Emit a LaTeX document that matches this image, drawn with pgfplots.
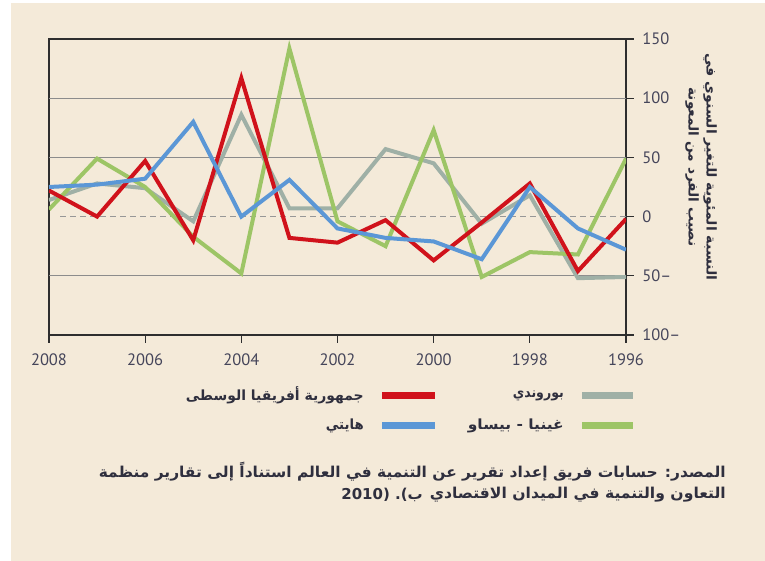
\documentclass[border=0pt]{standalone}
\usepackage{fontspec}
\usepackage{graphicx}
\setmainfont{PT Sans}
\newfontfamily\arabicfont[Script=Arabic]{DejaVu Sans}
\usepackage{pgfplots}
\pgfplotsset{compat=1.18}
\TeXXeTstate=1
\definecolor{bgcream}{HTML}{F4EAD9}
\definecolor{cred}{HTML}{D0121B}
\definecolor{cgrey}{HTML}{9FB0A6}
\definecolor{cgreen}{HTML}{9DC566}
\definecolor{cblue}{HTML}{5B97D6}
\definecolor{txt}{HTML}{45455A}
\definecolor{artxt}{HTML}{2F2F3E}
\definecolor{gridc}{HTML}{8C8C8C}
\definecolor{framec}{HTML}{2E2E2E}
\begin{document}
\begin{tikzpicture}
\fill[white] (0pt,0pt) rectangle (765pt,561pt);
\fill[bgcream] (11pt,0pt) rectangle (765pt,558pt);
\begin{axis}[at={(49pt,226pt)}, anchor=south west, scale only axis,
  width=577pt, height=296pt,
  x dir=reverse, xmin=1996, xmax=2008, ymin=-100, ymax=150,
  xtick={1996,1998,2000,2002,2004,2006,2008},
  xticklabels={1996,1998,2000,2002,2004,2006,2008},
  ytick={-100,-50,0,50,100,150},
  yticklabels={100--,50--,0,50,100,150},
  xtick pos=bottom, ytick pos=right, yticklabel pos=right,
  tick align=outside, major tick length=8pt,
  tick style={line width=1.3pt, color=framec},
  axis line style={line width=1.6pt, color=framec},
  ticklabel style={font=\fontsize{16.5}{16.5}\selectfont, text=txt},
  xticklabel style={yshift=-7pt},
  yticklabel style={xshift=5pt},
  clip=true,
]
\draw[gridc, line width=0.9pt] (axis cs:1996,50) -- (axis cs:2008,50);
\draw[gridc, line width=0.9pt] (axis cs:1996,100) -- (axis cs:2008,100);
\draw[gridc, line width=0.9pt] (axis cs:1996,-50) -- (axis cs:2008,-50);
\draw[gridc!90, line width=0.9pt, dash pattern=on 6pt off 4pt] (axis cs:1996,0) -- (axis cs:2007.8,0);
\addplot[cgrey, line width=4pt] coordinates {(2008,14)(2007,28)(2006,24)(2005,-4)(2004,86)(2003,7)(2002,7)(2001,57)(2000,45)(1999,-6)(1998,18)(1997,-52)(1996,-51)};
\addplot[cgreen, line width=4pt] coordinates {(2008,6)(2007,49)(2006,25)(2005,-17)(2004,-48)(2003,142)(2002,-4)(2001,-25)(2000,73)(1999,-51)(1998,-30)(1997,-32)(1996,49)};
\addplot[cred, line width=4pt] coordinates {(2008,22)(2007,0)(2006,47)(2005,-20)(2004,117)(2003,-18)(2002,-22)(2001,-3)(2000,-37)(1999,-5)(1998,28)(1997,-46)(1996,-2)};
\addplot[cblue, line width=4pt] coordinates {(2008,25)(2007,27)(2006,32)(2005,80)(2004,0)(2003,31)(2002,-10)(2001,-18)(2000,-21)(1999,-36)(1998,25)(1997,-10)(1996,-28)};
\end{axis}
\begin{scope}[x=1pt,y=1pt]
% y-axis title
\node[rotate=-90, align=center, text=artxt, font=\arabicfont\bfseries\fontsize{13.5}{18}\selectfont] at (701,394)
  {\resizebox{227pt}{\height}{\beginR النسبة المئوية للتغير السنوي في\endR}\\\resizebox{159pt}{\height}{\beginR نصيب الفرد من المعونة\endR}};
% legend
\draw[cgrey, line width=7pt] (582,165.3) -- (633,165.3);
\draw[cgreen, line width=7pt] (582,135.3) -- (633,135.3);
\draw[cred, line width=7pt] (382,165.3) -- (435,165.3);
\draw[cblue, line width=7pt] (382,135.3) -- (435,135.3);
\begin{scope}[every node/.style={anchor=east, text=artxt, inner sep=0pt, font=\arabicfont\bfseries\fontsize{14}{14}\selectfont}]
\node at (564,165.3) {\resizebox{51pt}{\height}{\beginR بوروندي\endR}};
\node at (564,135.3) {\resizebox{96pt}{\height}{\beginR غينيا - بيساو\endR}};
\node at (364,165.3) {\resizebox{178pt}{\height}{\beginR جمهورية أفريقيا الوسطى\endR}};
\node at (364,135.3) {\resizebox{38pt}{\height}{\beginR هايتي\endR}};
% source note
\node[font=\arabicfont\bfseries\fontsize{15}{15}\selectfont] at (726,89)
  {\resizebox{627pt}{\height}{\beginR المصدر: حسابات فريق إعداد تقرير عن التنمية في العالم استناداً إلى تقارير منظمة\endR}};
\node[font=\arabicfont\bfseries\fontsize{15}{15}\selectfont] at (726,66)
  {\resizebox{296pt}{\height}{\beginR التعاون والتنمية في الميدان الاقتصادي\endR}};
\node[font=\arabicfont\bfseries\fontsize{15}{15}\selectfont] at (423,66) {\beginR\beginL(2010 ب).\endL\endR};
\end{scope}
\end{scope}
\end{tikzpicture}
\end{document}
